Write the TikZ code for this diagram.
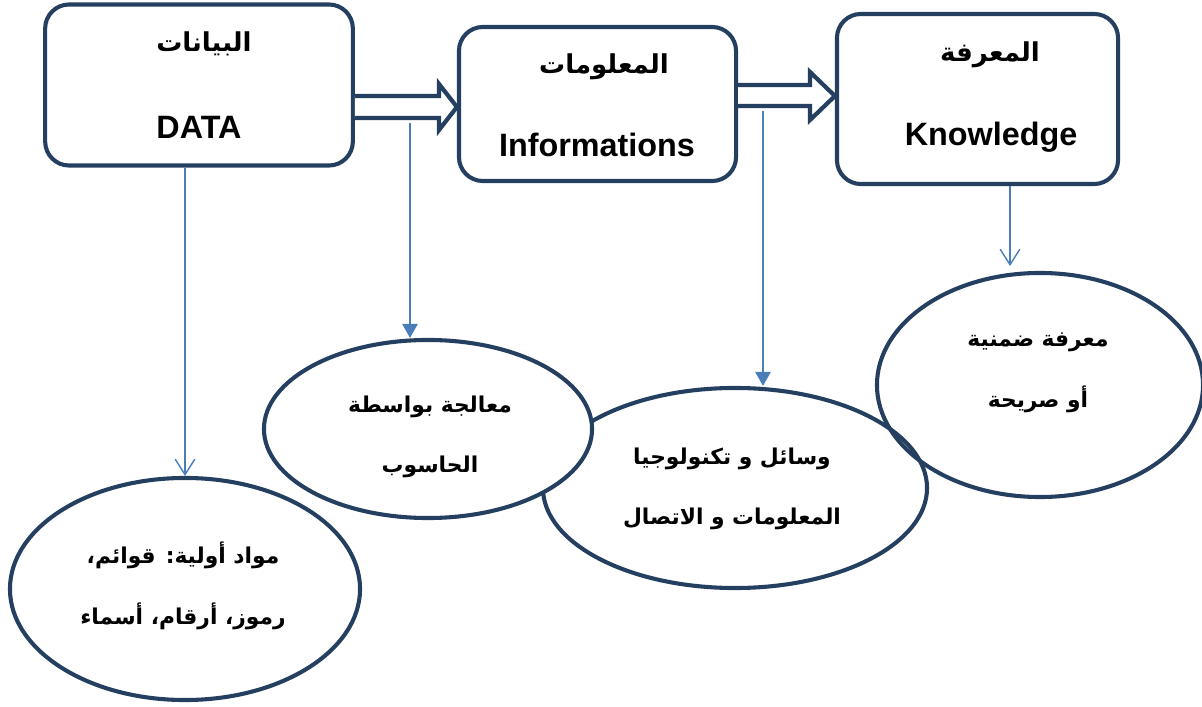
\documentclass[tikz,border=0pt]{standalone}
\usepackage{fontspec}
\setmainfont{Liberation Sans}
\newfontfamily\arabicfont[Script=Arabic]{DejaVu Sans}
\TeXXeTstate=1
\usetikzlibrary{shapes.geometric,arrows.meta}

\definecolor{borderNavy}{HTML}{243F60}
\definecolor{feedBlue}{HTML}{4A7EBB}

\tikzset{
  stage/.style={draw=borderNavy, line width=2.9pt, rounded corners=17pt},
  bubble/.style={ellipse, draw=borderNavy, line width=2.9pt, inner sep=0pt},
  hollow/.style={draw=borderNavy, line width=3pt, line join=miter, fill=white},
  feed/.style={draw=feedBlue, line width=1pt},
  barbtip/.style={-{Straight Barb[length=11pt,width=14pt]}},
  solidtip/.style={-{Triangle[length=10pt,width=11pt]}},
  artitle/.style={font=\arabicfont\bfseries\fontsize{18.5}{22}\selectfont},
  entitle/.style={font=\bfseries\fontsize{23}{27}\selectfont},
  artext/.style={font=\arabicfont\bfseries\fontsize{15.5}{43}\selectfont, align=center},
}

\begin{document}
\begin{tikzpicture}[x=0.025cm,y=-0.025cm]
    \useasboundingbox (0,0) rectangle (1202,707);

    % Stages
    \node[stage, minimum width=7.69cm, minimum height=4.025cm] (data) at (199,85) {};
    \node[stage, minimum width=6.925cm, minimum height=3.85cm] (info) at (597.5,104) {};
    \node[stage, minimum width=7.025cm, minimum height=4.25cm] (know) at (977.5,99) {};

    \node[artitle] (dataAr) at (204,44) {\beginR البيانات\endR};
    \node[entitle] (dataEn) at (199,127) {DATA};
    \node[artitle] (infoAr) at (604,67) {\beginR المعلومات\endR};
    \node[entitle] (infoEn) at (597,145) {Informations};
    \node[artitle] (knowAr) at (990,55) {\beginR المعرفة\endR};
    \node[entitle] (knowEn) at (991,137) {Knowledge};

    % Hollow arrows between the stages
    \draw[hollow] (data.east |- 0,96) -- (439,96) -- (439,84) -- (info.west |- 0,107) -- (439,130) -- (439,118) -- (data.east |- 0,118);
    \draw[hollow] (info.east |- 0,85) -- (810,85) -- (810,72) -- (know.west |- 0,96) -- (810,120) -- (810,106) -- (info.east |- 0,106);

    % Bubbles (tech first, processing drawn over it)
    \node[bubble, fill=white, minimum width=9.6cm, minimum height=5cm] (techEl) at (735,488) {};
    \node[bubble, fill=white, minimum width=8.2cm, minimum height=4.45cm] (procEl) at (428,429) {};
    \node[bubble, minimum width=8.75cm, minimum height=5.55cm] (dataEl) at (185,589) {};
    \node[bubble, minimum width=8.15cm, minimum height=5.6cm] (knowEl) at (1040,385) {};

    \node[artext] (dataTxt) at (183,586) {\beginR مواد أولية: قوائم،\endR\\\beginR رموز، أرقام، أسماء\endR};
    \node[artext] (procTxt) at (430,437) {\beginR معالجة بواسطة\endR\\\beginR الحاسوب\endR};
    \node[artext] (techTxt) at (732,489) {\beginR وسائل و تكنولوجيا\endR\\\beginR المعلومات و الاتصال\endR};
    \node[artext] (knowTxt) at (1038,373) {\beginR معرفة ضمنية\endR\\\beginR أو صريحة\endR};

    % Thin arrows down to the bubbles
    \coordinate (procTop) at (410,123);
    \coordinate (techTop) at (763,111);
    \coordinate (knowEnd) at (1010,266);
    \draw[feed, barbtip] (data.south -| 185,0) -- (dataEl.north);
    \draw[feed, solidtip] (procTop) -- (procEl.north -| 410,0);
    \draw[feed, solidtip] (techTop) -- (techEl.north -| 763,0);
    \draw[feed, barbtip] (know.south -| 1010,0) -- (knowEnd);

\end{tikzpicture}
\end{document}
